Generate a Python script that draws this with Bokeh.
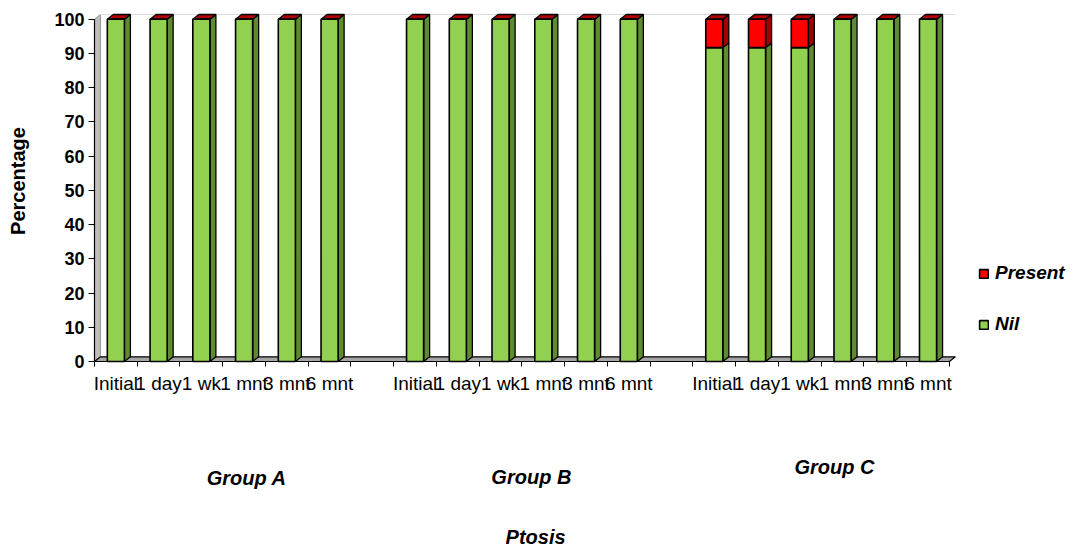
import math
from bokeh.plotting import figure
from bokeh.models import (Range1d, FixedTicker, Label, Legend, LegendItem)
from bokeh.embed import file_html
from bokeh.resources import INLINE

# Ptosis follow-up: share of patients with / without ptosis, per group and visit
groups = ["Group A", "Group B", "Group C"]
periods = ["Initial", "1 day", "1 wk", "1 mnt", "3 mnt", "6 mnt"]

nil_a = [100, 100, 100, 100, 100, 100]
nil_b = [100, 100, 100, 100, 100, 100]
nil_c = [91.7, 91.7, 91.7, 100, 100, 100]
present_a = [0, 0, 0, 0, 0, 0]
present_b = [0, 0, 0, 0, 0, 0]
present_c = [8.3, 8.3, 8.3, 0, 0, 0]

y_ticks = [0, 10, 20, 30, 40, 50, 60, 70, 80, 90, 100]

nil_all = [nil_a, nil_b, nil_c]
present_all = [present_a, present_b, present_c]

# layout of the slots: six bars per group, one empty slot between groups
SLOTS_PER_GROUP = len(periods) + 1
N_SLOTS = len(groups) * SLOTS_PER_GROUP - 1
BAR_W = 0.4          # front face width (slot units)
DX, DY = 0.14, 1.37  # 3-D depth offset (x in slot units, y in percent units)

centers, nil_vals, pres_vals, tops = [], [], [], []
for gi, (nv, pv) in enumerate(zip(nil_all, present_all)):
    for pi_ in range(len(periods)):
        centers.append(gi * SLOTS_PER_GROUP + pi_ + 0.5)
        nil_vals.append(nv[pi_])
        pres_vals.append(pv[pi_])
        tops.append(nv[pi_] + pv[pi_])

GREEN, GREEN_SIDE = "#92D050", "#5E8B2F"
RED, RED_SIDE, RED_TOP = "#FF0000", "#A00000", "#B00000"
FONT = "Liberation Sans"

# the plotting area spans the whole canvas; axes sit at fixed data positions
p = figure(width=1075, height=553, output_backend="svg", toolbar_location=None,
           x_range=Range1d(-2.199, 22.95), y_range=Range1d(-56.09, 105.46),
           min_border=0, min_border_left=0, min_border_right=0,
           min_border_top=0, min_border_bottom=0)
p.outline_line_color = None
p.xgrid.visible = False
p.ygrid.visible = False
p.background_fill_color = "white"

# back wall edge (left) and floor
p.patch([0, DX, DX, 0], [0, DY, 100 + DY, 100], fill_color="#BDBDBD",
        line_color="#9A9A9A", line_width=1)
p.segment(x0=[0], y0=[0], x1=[0], y1=[100], line_color="black", line_width=1.2)
p.segment(x0=[DX], y0=[100 + DY], x1=[N_SLOTS + DX], y1=[100 + DY],
          line_color="#DDDDDD", line_width=1)
p.patch([0, N_SLOTS, N_SLOTS + DX, DX], [0, 0, DY, DY], fill_color="#A6A6A6",
        line_color="black", line_width=1.2)

# side faces of the bars
x1s = [c + BAR_W / 2 for c in centers]
side_nil_xs = [[x, x + DX, x + DX, x] for x in x1s]
side_nil_ys = [[0, DY, n + DY, n] for n in nil_vals]
side_pre_xs = [[x, x + DX, x + DX, x] for x in x1s]
side_pre_ys = [[n, n + DY, t + DY, t] for n, t in zip(nil_vals, tops)]
p.patches(side_nil_xs, side_nil_ys, fill_color=GREEN_SIDE, line_color="black", line_width=1.3)
p.patches(side_pre_xs, side_pre_ys, fill_color=RED_SIDE, line_color="black", line_width=1.3)

# top faces (top of the stacked "Present" segment)
top_xs = [[c - BAR_W / 2, c - BAR_W / 2 + DX, c + BAR_W / 2 + DX, c + BAR_W / 2] for c in centers]
top_ys = [[t, t + DY, t + DY, t] for t in tops]
p.patches(top_xs, top_ys, fill_color=RED_TOP, line_color="black", line_width=1.3)

# front faces
r_nil = p.vbar(x=centers, width=BAR_W, bottom=0, top=nil_vals,
               fill_color=GREEN, line_color="black", line_width=1.6)
r_pre = p.vbar(x=centers, width=BAR_W, bottom=nil_vals, top=tops,
               fill_color=RED, line_color="black", line_width=1.6)

# x axis: labels at slot centres, tick marks at slot boundaries
xaxis = p.xaxis[0]
xaxis.fixed_location = 0
label_map = {}
for gi in range(len(groups)):
    for pi_, name in enumerate(periods):
        label_map[gi * SLOTS_PER_GROUP + pi_ + 0.5] = name
xaxis.ticker = FixedTicker(ticks=list(label_map.keys()),
                           minor_ticks=list(range(0, N_SLOTS + 1)))
xaxis.major_label_overrides = label_map
xaxis.major_tick_in = 0
xaxis.major_tick_out = 0
xaxis.minor_tick_in = 0
xaxis.minor_tick_out = 5
xaxis.minor_tick_line_color = "black"
xaxis.axis_line_color = None
xaxis.major_label_standoff = 7
xaxis.major_label_text_font = FONT
xaxis.major_label_text_font_size = "19px"
xaxis.major_label_text_color = "black"

# y axis
yaxis = p.yaxis[0]
yaxis.fixed_location = 0
yaxis.bounds = (0, 107)
yaxis.ticker = FixedTicker(ticks=y_ticks)
yaxis.minor_tick_line_color = None
yaxis.major_tick_in = 0
yaxis.major_tick_out = 6
yaxis.major_tick_line_color = "black"
yaxis.axis_line_color = None
yaxis.major_label_standoff = 4
yaxis.major_label_text_font = FONT
yaxis.major_label_text_font_style = "bold"
yaxis.major_label_text_font_size = "18px"
yaxis.major_label_text_color = "black"
yaxis.axis_label = "Percentage"
yaxis.axis_label_text_font = FONT
yaxis.axis_label_text_font_style = "bold"
yaxis.axis_label_text_font_size = "20px"
yaxis.axis_label_text_color = "black"
yaxis.axis_label_standoff = 22

# group captions and chart caption
for name, gx, gy in zip(groups, [3.56, 10.22, 17.31], [-33.9, -33.6, -30.7]):
    p.add_layout(Label(x=gx, y=gy, text=name, text_align="center",
                       text_baseline="middle", text_font=FONT,
                       text_font_style="bold italic", text_font_size="20px",
                       text_color="black"))
p.add_layout(Label(x=10.32, y=-51.4, text="Ptosis", text_align="center",
                   text_baseline="middle", text_font=FONT,
                   text_font_style="bold italic", text_font_size="20px",
                   text_color="black"))

legend = Legend(items=[LegendItem(label="Present", renderers=[r_pre]),
                       LegendItem(label="Nil", renderers=[r_nil])],
                location=(978, 218), padding=0, margin=0, spacing=29,
                glyph_width=11, glyph_height=11, label_standoff=6,
                label_text_font=FONT,
                label_text_font_style="bold italic",
                label_text_font_size="19px", label_text_color="black",
                border_line_color=None, background_fill_alpha=0)
p.add_layout(legend)

open("out.html", "w").write(file_html(p, INLINE))
